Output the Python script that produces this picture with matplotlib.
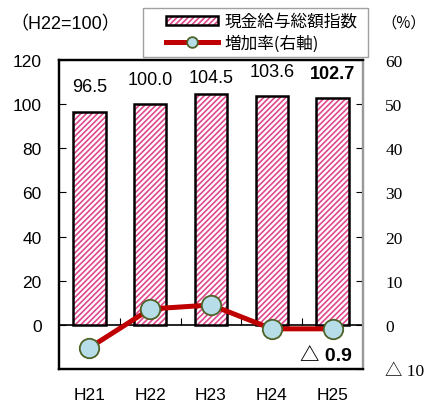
import numpy as np
import matplotlib
matplotlib.use("Agg")
import matplotlib.pyplot as plt
from matplotlib.ticker import FuncFormatter
from matplotlib.legend_handler import HandlerTuple, HandlerLine2D

# data
years = ["H21", "H22", "H23", "H24", "H25"]
index_vals = [96.5, 100.0, 104.5, 103.6, 102.7]
growth = [-5.2, 3.6, 4.5, -0.9, -0.9]
label_txt = ["96.5", "100.0", "104.5", "103.6", "102.7"]

JP = ["Noto Sans CJK JP", "DejaVu Sans"]
LAT = ["Liberation Sans", "Noto Sans CJK JP"]
plt.rcParams["font.family"] = ["Liberation Sans", "Noto Sans CJK JP", "DejaVu Sans"]
plt.rcParams["hatch.linewidth"] = 1.2

pink = "#e0488e"
red = "#c00000"

fig = plt.figure(figsize=(4.32, 4.02), dpi=100)
ax = fig.add_axes([59 / 432, 32 / 402, 304 / 432, 309 / 402])
ax2 = ax.twinx()

x = np.arange(len(years))
# hatched fill, then black outline on top
b1 = ax.bar(x, index_vals, width=0.53, color="white", edgecolor=pink,
            hatch="//////", linewidth=0, zorder=2)
b2 = ax.bar(x, index_vals, width=0.53, fill=False, edgecolor="black",
            linewidth=1.8, zorder=3)

ax.set_xlim(-0.5, 4.5)
ax.set_ylim(-20, 120)
ax.set_yticks(range(0, 121, 20))
ax.tick_params(axis="y", direction="in", length=5, labelsize=12.5, pad=12.5)
ax.set_xticks(x, years)
ax.tick_params(axis="x", length=0, labelsize=12.5, pad=13)

for i, v in enumerate(index_vals):
    off = 12 if i == 2 else 18
    ax.annotate(label_txt[i], xy=(i, v), xytext=(0, off), textcoords="offset points",
                ha="center", va="center", fontsize=13,
                fontweight="bold" if i == 4 else "normal")

# zero line with boundary ticks
zl = ax.secondary_xaxis(0, transform=ax.transData)
zl.set_xticks([0.5, 1.5, 2.5, 3.5], labels=[])
zl.tick_params(direction="in", length=5, width=0.8)
zl.spines["bottom"].set_linewidth(1.2)

# growth line
ln, = ax2.plot(x, growth, color=red, lw=3.6, marker="o", ms=14,
               mfc="#b7dde8", mec="#4f6228", mew=1.3, zorder=5)
ax2.set_ylim(-10, 60)
ax2.set_yticks(range(-10, 61, 10))
ax2.yaxis.set_major_formatter(FuncFormatter(lambda v, p: f"△ {abs(int(v))}" if v < 0 else f"{int(v)}"))
ax2.tick_params(axis="y", direction="in", length=5, labelsize=12.5, pad=16)
for t in ax2.get_yticklabels():
    t.set_family(["Liberation Serif", "Noto Sans CJK JP"])
ax2.annotate("△ 0.9", xy=(4, growth[4]), xytext=(14, -19), textcoords="offset points",
             ha="right", va="center", fontsize=14, family=LAT, fontweight="bold")

for a in (ax, ax2):
    for s in ("left", "top", "bottom"):
        a.spines[s].set_linewidth(1.6)
        a.spines[s].set_color("black")
    a.spines["right"].set_linewidth(1.6)
    a.spines["right"].set_color("#999999")

fig.text(10 / 432, 1 - 25 / 402, "（H22=100）", fontsize=13, family=LAT, va="center", ha="left")
fig.text(404 / 432, 1 - 23 / 402, "（%）", fontsize=11, family=JP, va="center", ha="center")

leg = fig.legend([(b1, b2), ln], ["現金給与総額指数", "増加率(右軸)"],
                 handler_map={tuple: HandlerTuple(ndivide=1, xpad=1.1),
                              type(ln): HandlerLine2D(xpad=1.1)},
                 loc="upper left", bbox_to_anchor=(143 / 432, 1 - 9 / 402 - 0.01, 225 / 432, 0.01),
                 mode="expand", markerscale=0.55,
                 prop={"family": JP, "size": 12}, frameon=True, fancybox=False,
                 edgecolor="#888888", handlelength=4.2, handleheight=0.45,
                 borderpad=0.3, labelspacing=0.25, handletextpad=0.4, borderaxespad=0)
leg.get_frame().set_linewidth(1.0)

fig.savefig("out.png", dpi=100)
